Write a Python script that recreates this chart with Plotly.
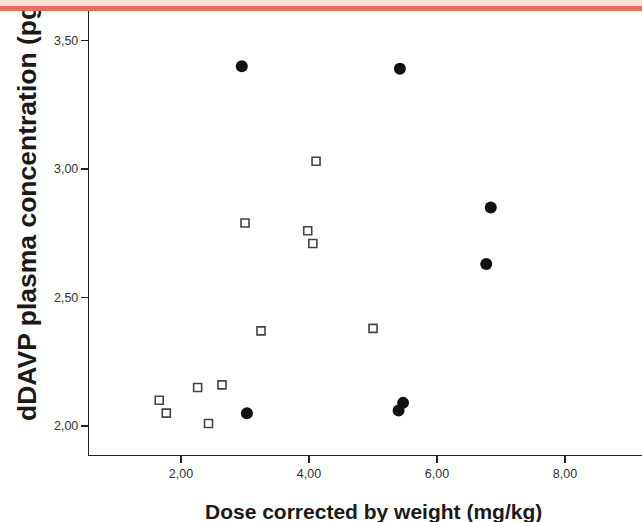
import plotly.graph_objects as go

# Data
sq_x = [1.66, 1.77, 2.26, 2.64, 2.43, 3.00, 3.25, 3.98, 4.06, 4.11, 5.00]
sq_y = [2.10, 2.05, 2.15, 2.16, 2.01, 2.79, 2.37, 2.76, 2.71, 3.03, 2.38]
ci_x = [2.95, 5.42, 6.84, 6.77, 3.03, 5.47, 5.40]
ci_y = [3.40, 3.39, 2.85, 2.63, 2.05, 2.09, 2.06]

x_ticks = [2, 4, 6, 8]
x_ticktext = ["2,00", "4,00", "6,00", "8,00"]
y_ticks = [2.0, 2.5, 3.0, 3.5]
y_ticktext = ["2,00", "2,50", "3,00", "3,50"]

W, H = 642, 522
L, R, T, B = 89, 0, 11, 67
pw, ph = W - L - R, H - T - B

def px_x(p):
    return (p - L) / pw

def px_y(p):
    return (H - B - p) / ph

fig = go.Figure()
fig.add_trace(go.Scatter(
    x=sq_x, y=sq_y, mode="markers",
    marker=dict(symbol="square-open", size=8, color="#444444", line=dict(width=1.6)),
    showlegend=False, hoverinfo="skip"))
fig.add_trace(go.Scatter(
    x=ci_x, y=ci_y, mode="markers",
    marker=dict(symbol="circle", size=12, color="#111111", line=dict(width=0)),
    showlegend=False, hoverinfo="skip"))

axis_common = dict(
    showgrid=False, zeroline=False, showline=True, linecolor="#222222", linewidth=1.2,
    ticks="outside", ticklen=7, tickwidth=1.2, tickcolor="#222222",
    tickfont=dict(family="Arial, Liberation Sans, sans-serif", size=12.5, color="#333333"),
)
fig.update_xaxes(range=[0.5625, 0.5625 + pw / 64.0], tickvals=x_ticks, ticktext=x_ticktext, **axis_common)
fig.update_yaxes(range=[2 - (H - B - 426) / 257.0, 2 + (426 - T) / 257.0], tickvals=y_ticks,
                 ticktext=y_ticktext, **axis_common)

anns = [
    dict(text="dDAVP plasma concentration (pg/ml)", textangle=-90, showarrow=False,
         xref="paper", yref="paper", x=px_x(27), y=px_y(423), xanchor="center", yanchor="bottom",
         font=dict(family="Arial, Liberation Sans, sans-serif", size=26.5, color="#1a1a1a", weight="bold")),
    dict(text="Dose corrected by weight (mg/kg)", showarrow=False,
         xref="paper", yref="paper", x=px_x(373), y=px_y(511), xanchor="center", yanchor="middle",
         font=dict(family="Arial, Liberation Sans, sans-serif", size=21, color="#1a1a1a", weight="bold")),
    # top band (peach + red stripe), drawn above the title text
    dict(text=" ", showarrow=False, xref="paper", yref="paper", x=px_x(-5), y=px_y(-5),
         xanchor="left", yanchor="top", width=700, height=12, bgcolor="#FFE3D5",
         borderpad=0, borderwidth=0, font=dict(size=4)),
    dict(text=" ", showarrow=False, xref="paper", yref="paper", x=px_x(-5), y=px_y(6),
         xanchor="left", yanchor="top", width=700, height=5, bgcolor="#EE6E5E",
         borderpad=0, borderwidth=0, font=dict(size=4)),
]

fig.update_layout(
    width=W, height=H, autosize=False,
    margin=dict(l=L, r=R, t=T, b=B, pad=0),
    paper_bgcolor="white", plot_bgcolor="white",
    annotations=anns,
)

fig.write_html("out.html", config={"displayModeBar": False, "staticPlot": True},
               post_script="document.body.style.margin='0';document.body.style.overflow='hidden';")
